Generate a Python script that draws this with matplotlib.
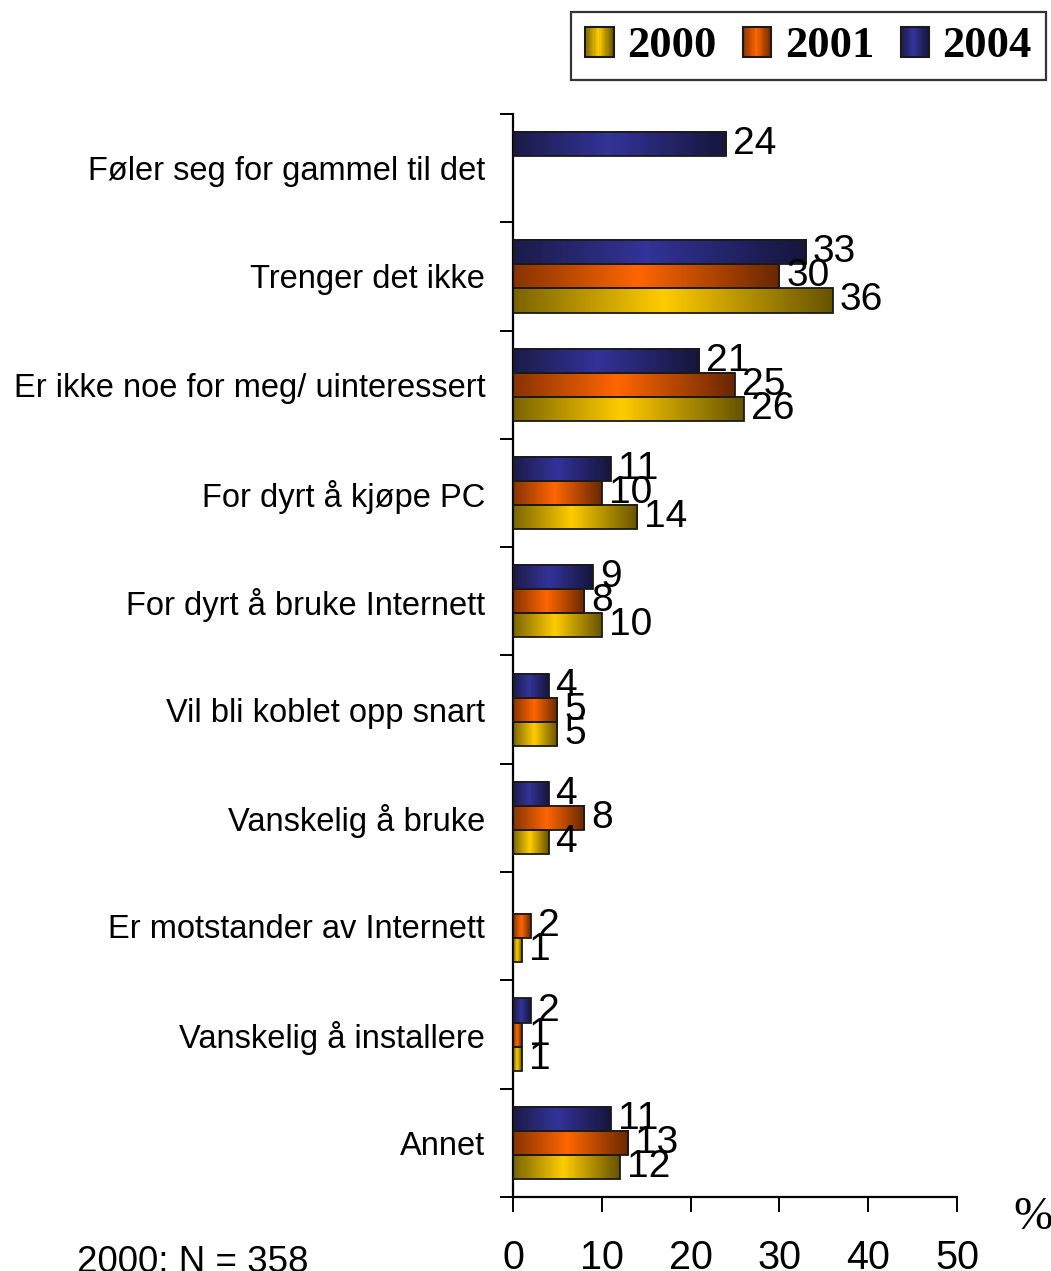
import matplotlib
matplotlib.use("Agg")
import matplotlib.pyplot as plt
import numpy as np
from matplotlib.colors import LinearSegmentedColormap
from matplotlib.patches import Patch, Rectangle
from matplotlib.legend_handler import HandlerBase

plt.rcParams['font.family'] = ['Liberation Sans', 'DejaVu Sans']

categories = ['Føler seg for gammel til det', 'Trenger det ikke',
              'Er ikke noe for meg/ uinteressert', 'For dyrt å kjøpe PC',
              'For dyrt å bruke Internett', 'Vil bli koblet opp snart',
              'Vanskelig å bruke', 'Er motstander av Internett',
              'Vanskelig å installere', 'Annet']
years = ['2000', '2001', '2004']
v2000 = [np.nan, 36, 26, 14, 10, 5, 4, 1, 1, 12]
v2001 = [np.nan, 30, 25, 10, 8, 5, 8, 2, 1, 13]
v2004 = [24, 33, 21, 11, 9, 4, 4, np.nan, 2, 11]
xticks = [0, 10, 20, 30, 40, 50]

# metallic look: dark - bright - dark along the bar
cmaps = {
    '2000': LinearSegmentedColormap.from_list('y', [(0, '#7a6400'), (0.47, '#ffcc00'), (1, '#665300')]),
    '2001': LinearSegmentedColormap.from_list('o', [(0, '#883300'), (0.47, '#ff6600'), (1, '#692700')]),
    '2004': LinearSegmentedColormap.from_list('b', [(0, '#1b1b48'), (0.45, '#333399'), (1, '#15153b')]),
}

fig = plt.figure(figsize=(10.51, 12.71), dpi=100)
ax = fig.add_axes([513 / 1051, 1 - 1197 / 1271, 444 / 1051, (1197 - 114) / 1271])

y = np.arange(len(categories))
h = 0.222
grad = np.linspace(0, 1, 256).reshape(1, -1)

for vals, yr, off in [(v2000, '2000', h), (v2001, '2001', 0), (v2004, '2004', -h)]:
    bars = ax.barh(y + off, vals, height=h, facecolor='none',
                   edgecolor='#1a1a1a', linewidth=1.3, zorder=3)
    for rect, v in zip(bars.patches, vals):
        if np.isnan(v):
            continue
        x0, y0 = rect.get_x(), rect.get_y()
        ax.imshow(grad, cmap=cmaps[yr], aspect='auto', interpolation='bilinear',
                  extent=(x0, x0 + rect.get_width(), y0, y0 + rect.get_height()),
                  zorder=2)
        ax.annotate(f'{v:g}', xy=(v, y0 + rect.get_height() / 2), xytext=(5, 0),
                    textcoords='offset points', ha='left', va='center',
                    fontsize=28, zorder=4)

ax.set_xlim(0, 50)
ax.set_ylim(len(categories) - 0.5, -0.5)

ax.set_xticks(xticks)
ax.set_xticklabels([str(t) for t in xticks], fontsize=28.5)
ax.tick_params(axis='x', direction='out', length=11, width=1.4, pad=19)

ax.set_yticks(np.arange(len(categories) + 1) - 0.5)
ax.set_yticklabels([])
ax.set_yticks(y, minor=True)
ax.set_yticklabels(categories, minor=True, fontsize=23.5)
ax.tick_params(axis='y', which='major', direction='out', length=9.5, width=1.4)
ax.tick_params(axis='y', which='minor', length=0, pad=20)

for s in ['top', 'right']:
    ax.spines[s].set_visible(False)
ax.spines['left'].set_linewidth(1.6)
ax.spines['bottom'].set_linewidth(1.6)


class GradHandler(HandlerBase):
    def __init__(self, cmap):
        super().__init__()
        self.cmap = cmap

    def create_artists(self, legend, orig_handle, xdescent, ydescent,
                       width, height, fontsize, trans):
        n = 24
        arts = []
        for i in range(n):
            arts.append(Rectangle((-xdescent + width * i / n, -ydescent),
                                  width / n * 1.05, height,
                                  facecolor=self.cmap((i + 0.5) / n),
                                  edgecolor='none', transform=trans))
        arts.append(Rectangle((-xdescent, -ydescent), width, height, fill=False,
                              edgecolor='#1a1a1a', linewidth=1.5, transform=trans))
        return arts


handles = [Patch(label=yr) for yr in years]
leg = fig.legend(handles=handles, loc='upper right', ncol=3,
                 bbox_to_anchor=(1046 / 1051, 1 - 12 / 1271),
                 handler_map={hd: GradHandler(cmaps[yr]) for hd, yr in zip(handles, years)},
                 prop={'family': 'Liberation Serif', 'weight': 'bold', 'size': 32},
                 frameon=True, fancybox=False, borderaxespad=0, borderpad=0.32,
                 handlelength=0.64, handleheight=0.66, handletextpad=0.3,
                 columnspacing=0.6)
leg.get_frame().set_edgecolor('black')
leg.get_frame().set_linewidth(1.6)

fig.text(1013 / 1051, 1 - 1229 / 1271, '%', family='Liberation Serif',
         fontsize=34, ha='left', va='baseline')
fig.text(77 / 1051, 1 - 1272 / 1271, '2000: N = 358', fontsize=26.5,
         ha='left', va='baseline')

fig.savefig('out.png', dpi=100)
